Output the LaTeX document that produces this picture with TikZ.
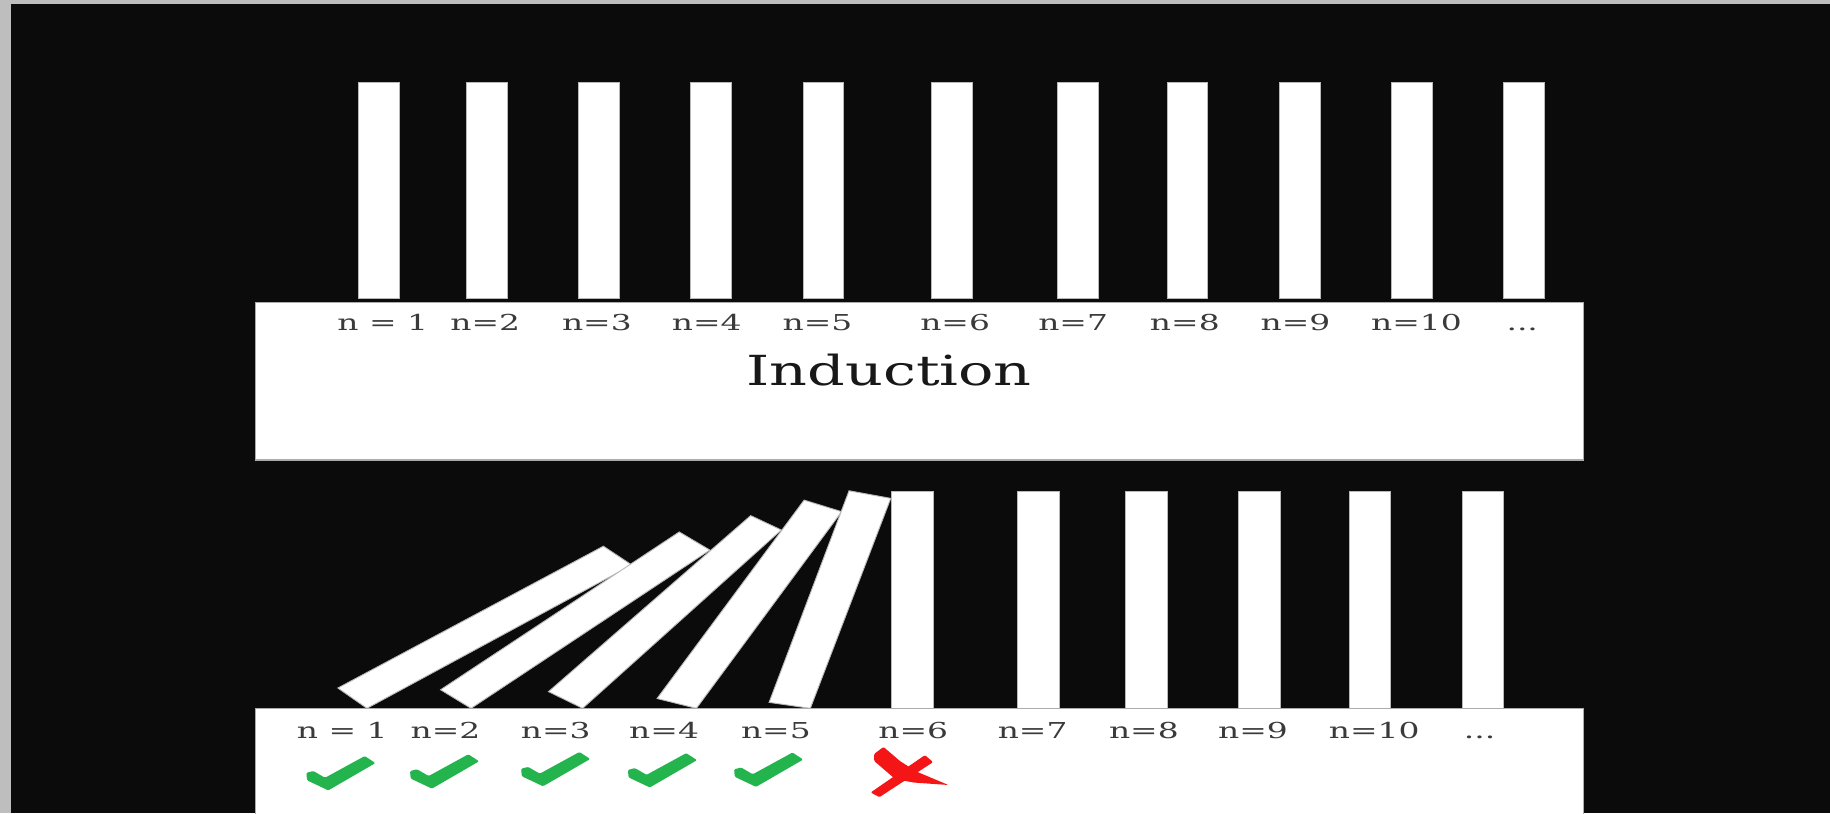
\documentclass[tikz,border=0pt]{standalone}
\usepackage{fontspec}
\usepackage{graphicx}
\setmainfont{DejaVu Serif}
\definecolor{bgblack}{RGB}{11,11,11}
\definecolor{framegray}{RGB}{190,190,190}
\definecolor{chkgreen}{RGB}{36,180,78}
\definecolor{xred}{RGB}{244,22,22}
\definecolor{lblgray}{RGB}{58,58,58}
\definecolor{titlegray}{RGB}{24,24,24}
\begin{document}
\begin{tikzpicture}[x=1pt,y=-1pt,
  domino/.style={fill=white, draw=gray!55, line width=0.8},
  panel/.style={fill=white, draw=gray!65, line width=1.2},
  lab/.style={anchor=base, inner sep=0pt, text=lblgray, font=\fontsize{18.8}{20}\selectfont},
  titletext/.style={anchor=base, inner sep=0pt, text=titlegray, font=\fontsize{35.5}{40}\selectfont},
  chk/.pic={\fill[chkgreen, rounded corners=1pt] (0,15.2) -- (6,13.6) -- (16,19.4) -- (50,0.8) -- (59.2,6.8) -- (18.8,30.2) -- (0.6,21.6) -- cycle;},
  crossmk/.pic={
    \fill[xred, rounded corners=1pt] (749,652) -- (749,646) -- (757,640) -- (771,652) -- (785,661) -- (812.6,672.6) -- (783,670.5) -- (767,667.5) -- cycle;
    \fill[xred, rounded corners=1pt] (792.5,647) -- (799.5,653) -- (753.5,683) -- (746,679) -- cycle;}
]
\useasboundingbox (0,0) rectangle (1568,697);
\fill[framegray] (0,0) rectangle (1568,697);
\fill[bgblack] (9,3.5) rectangle (1568,697);

% top row of standing dominoes
\foreach \x [count=\i] in {307,400,496,592,688,798,906,1000,1096,1192,1288}
  \draw[domino] (\x,71) rectangle ++(35,185) coordinate (td\i);
\draw[panel] (219,259) rectangle (1357,394);
\foreach \t/\x [count=\i] in {{n = 1}/328,{n=2}/415.8,{n=3}/511.4,{n=4}/605.5,{n=5}/700.4,{n=6}/818.4,{n=7}/919.5,{n=8}/1015.2,{n=9}/1110,{n=10}/1213.7,{...}/1304.3}
  \node[lab] (tl\i) at (\x,283.3) {\scalebox{1.5}[1]{\t}};
\node[titletext] (title) at (761.8,330.5) {\scalebox{1.42}[1]{Induction}};

% bottom row: fallen dominoes
\draw[domino] (289.5,589.5) -- (314.4,606.9) -- (541.3,484.1) -- (517,468) -- cycle;
\draw[domino] (377.5,591) -- (403.6,606.9) -- (608.2,471.3) -- (582,455.8) -- cycle;
\draw[domino] (470,592.6) -- (499.2,606.9) -- (669.4,454.1) -- (643.2,441.8) -- cycle;
\draw[domino] (563,598.5) -- (596.7,606.9) -- (721.1,438.4) -- (689,428.5) -- cycle;
\draw[domino] (659,601.8) -- (694.3,606.9) -- (763.2,427.0) -- (727.5,420.5) -- cycle;
% bottom row: standing dominoes
\foreach \x [count=\i] in {764,872,964.5,1061.5,1156,1253}
  \draw[domino] (\x,421.3) rectangle ++(35.5,186) coordinate (bd\i);
\draw[panel] (219,607) rectangle (1357,702);
\foreach \t/\x [count=\i] in {{n = 1}/293.2,{n=2}/381.7,{n=3}/476.2,{n=4}/569,{n=5}/664.8,{n=6}/782.5,{n=7}/884.8,{n=8}/980.1,{n=9}/1073.6,{n=10}/1177.5,{...}/1267.8}
  \node[lab] (bl\i) at (\x,632.6) {\scalebox{1.5}[1]{\t}};

% marks
\pic at (262.5,647) {chk};
\pic at (351.3,645.5) {chk};
\pic at (446.5,643.5) {chk};
\pic at (538,644.5) {chk};
\pic at (629,644) {chk};
\pic at (0,0) {crossmk};
\end{tikzpicture}
\end{document}
